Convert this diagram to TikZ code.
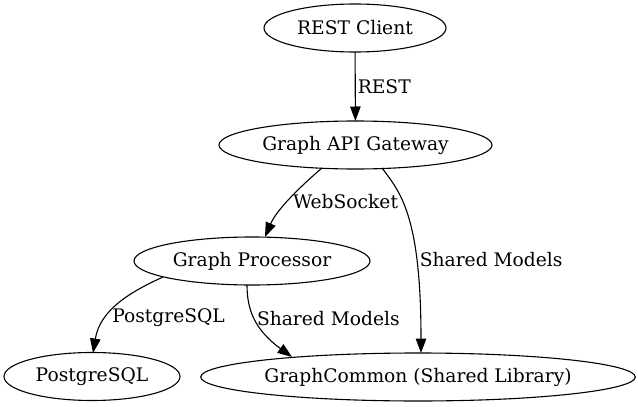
\documentclass[tikz,border=0pt]{standalone}
\usepackage{fontspec}
\setmainfont{DejaVu Serif}
\usetikzlibrary{arrows.meta, shapes.geometric, calc}

\begin{document}
\begin{tikzpicture}[x = 1pt, y = -1pt, line width = 1.1pt,
        font = \fontsize{18.67}{22}\selectfont,
        svc/.style = {draw, ellipse, inner sep = 0pt, outer sep = 0pt,
            minimum height = 48},
        edge/.style = {-{Triangle[length = 14.5pt, width = 10.5pt]}},
        lbl/.style = {anchor = west, inner sep = 2pt}]
        \useasboundingbox (0, 0) rectangle (638, 407);
        \node[svc, minimum width = 182] at (355, 28) (rest_client) {REST Client};
        \node[svc, minimum width = 273] at (355.5, 145) (api_gateway) {Graph API Gateway};
        \node[svc, minimum width = 236] at (252, 261) (processor) {Graph Processor};
        \node[svc, minimum width = 176] at (92, 376.5) (postgres) {PostgreSQL};
        \node[svc, minimum width = 428] at (418, 377) (graph_common) {GraphCommon (Shared Library)};
        \draw[edge] (rest_client) -- node[lbl] {REST} (api_gateway);
        \draw[edge] ($ (api_gateway.center) + (-33.5, 23) $)
            .. controls +(-20, 17) and +(12, -28) ..
            node[lbl, pos = 0.55, xshift = 3] {WebSocket}
            ($ (processor.center) + (13, -24) $);
        \draw[edge] ($ (api_gateway.center) + (26.5, 23) $)
            .. controls +(18, 24) and +(0, -138) ..
            node[lbl, pos = 0.71, xshift = 1] {Shared Models}
            ($ (graph_common.center) + (3, -24) $);
        \draw[edge] ($ (processor.center) + (-89, 16) $)
            .. controls +(-33, 15) and +(7, -43) ..
            node[lbl, pos = 0.67, xshift = 3] {PostgreSQL}
            ($ (postgres.center) + (1, -23.5) $);
        \draw[edge] ($ (processor.center) + (-5, 24) $)
            .. controls +(0, 25) and +(-37, -27) ..
            node[lbl, pos = 0.47] {Shared Models}
            ($ (graph_common.center) + (-126, -20) $);
    \end{tikzpicture}
\end{document}
